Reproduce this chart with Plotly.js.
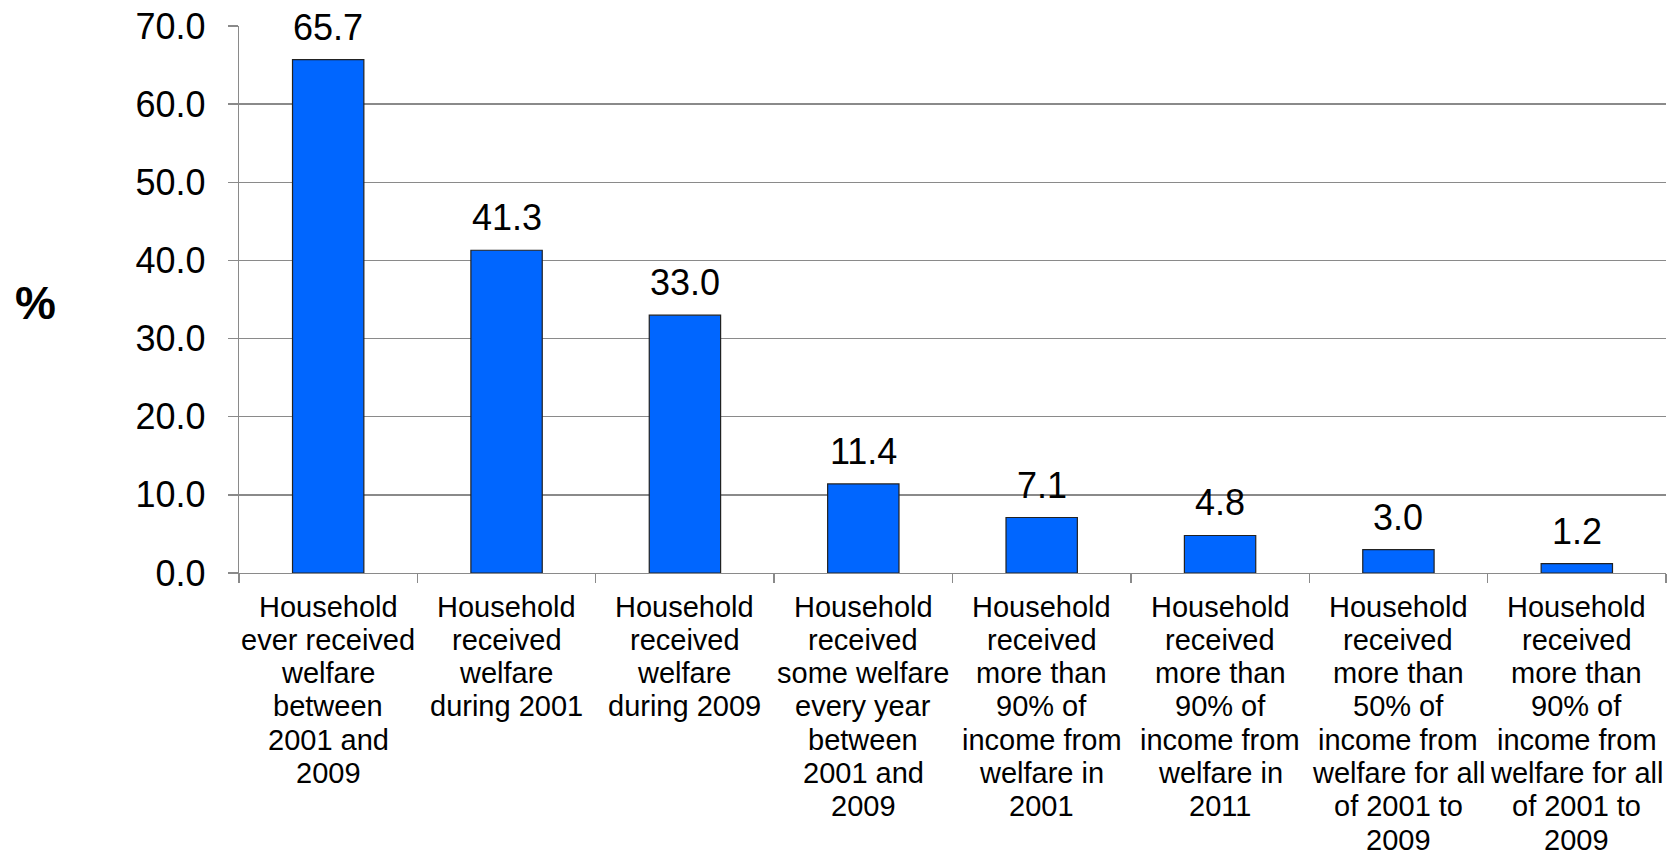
<!DOCTYPE html>
<html>
<head>
<meta charset="utf-8">
<script src="https://cdn.plot.ly/plotly-3.0.1.min.js"></script>
<style>
html,body{margin:0;padding:0;background:#fff;}
#chart{width:1678px;height:857px;}
</style>
</head>
<body>
<div id="chart"></div>
<script>
const categories = [
  "Household ever received welfare between 2001 and 2009",
  "Household received welfare during 2001",
  "Household received welfare during 2009",
  "Household received some welfare every year between 2001 and 2009",
  "Household received more than 90% of income from welfare in 2001",
  "Household received more than 90% of income from welfare in 2011",
  "Household received more than 50% of income from welfare for all of 2001 to 2009",
  "Household received more than 90% of income from welfare for all of 2001 to 2009"
];
const values = [65.7, 41.3, 33.0, 11.4, 7.1, 4.8, 3.0, 1.2];
const tickLabelLines = [
  ["Household", "ever received", "welfare", "between", "2001 and", "2009"],
  ["Household", "received", "welfare", "during 2001"],
  ["Household", "received", "welfare", "during 2009"],
  ["Household", "received", "some welfare", "every year", "between", "2001 and", "2009"],
  ["Household", "received", "more than", "90% of", "income from", "welfare in", "2001"],
  ["Household", "received", "more than", "90% of", "income from", "welfare in", "2011"],
  ["Household", "received", "more than", "50% of", "income from", "welfare for all", "of 2001 to", "2009"],
  ["Household", "received", "more than", "90% of", "income from", "welfare for all", "of 2001 to", "2009"]
];
const yTickVals = [0, 10, 20, 30, 40, 50, 60, 70];
const yTickText = ["0.0", "10.0", "20.0", "30.0", "40.0", "50.0", "60.0", "70.0"];
const yTitle = "%";

const FONT = "Liberation Sans, Arial, sans-serif";
const annotations = [];

// value labels above bars
categories.forEach((c, i) => {
  annotations.push({
    x: c, y: values[i], xref: "x", yref: "y",
    text: values[i].toFixed(1), showarrow: false,
    xanchor: "center", yanchor: "middle", yshift: 32.5,
    font: {family: FONT, size: 36, color: "#000"}
  });
});

// multi-line category labels (tight line spacing)
categories.forEach((c, i) => {
  tickLabelLines[i].forEach((line, j) => {
    annotations.push({
      x: c, y: 0, xref: "x", yref: "paper",
      text: line, showarrow: false,
      xanchor: "center", yanchor: "middle",
      yshift: -33.5 - 33.3 * j,
      font: {family: FONT, size: 29, color: "#000"}
    });
  });
});

// horizontal "%" axis title
annotations.push({
  x: 0, y: 0.4936, xref: "paper", yref: "paper",
  xshift: -204, text: "<b>" + yTitle + "</b>", showarrow: false,
  xanchor: "center", yanchor: "middle",
  font: {family: FONT, size: 46, color: "#000"}
});

const trace = {
  type: "bar",
  x: categories,
  y: values,
  width: 0.4,
  marker: {color: "#0066FF", line: {color: "#222", width: 1.2}},
  hoverinfo: "x+y"
};

const layout = {
  width: 1678, height: 857,
  margin: {l: 239, r: 12, t: 26, b: 284},
  paper_bgcolor: "#ffffff",
  plot_bgcolor: "#ffffff",
  showlegend: false,
  font: {family: FONT, color: "#000"},
  xaxis: {
    type: "category",
    showticklabels: false,
    tickson: "boundaries",
    ticks: "outside", ticklen: 9, tickcolor: "#8a8a8a", tickwidth: 1.3,
    showgrid: false,
    showline: true, linecolor: "#8a8a8a", linewidth: 1.3,
    zeroline: false,
    fixedrange: true
  },
  yaxis: {
    range: [0, 70],
    tickvals: yTickVals, ticktext: yTickText,
    ticks: "outside", ticklen: 10, tickcolor: "#8a8a8a", tickwidth: 1.3,
    ticklabelstandoff: 15,
    tickfont: {family: FONT, size: 36, color: "#000"},
    showgrid: true, gridcolor: "#8a8a8a", gridwidth: 1.3,
    showline: true, linecolor: "#8a8a8a", linewidth: 1.3,
    zeroline: false,
    fixedrange: true
  },
  annotations: annotations
};

Plotly.newPlot("chart", [trace], layout, {displayModeBar: false, staticPlot: true});
</script>
</body>
</html>
